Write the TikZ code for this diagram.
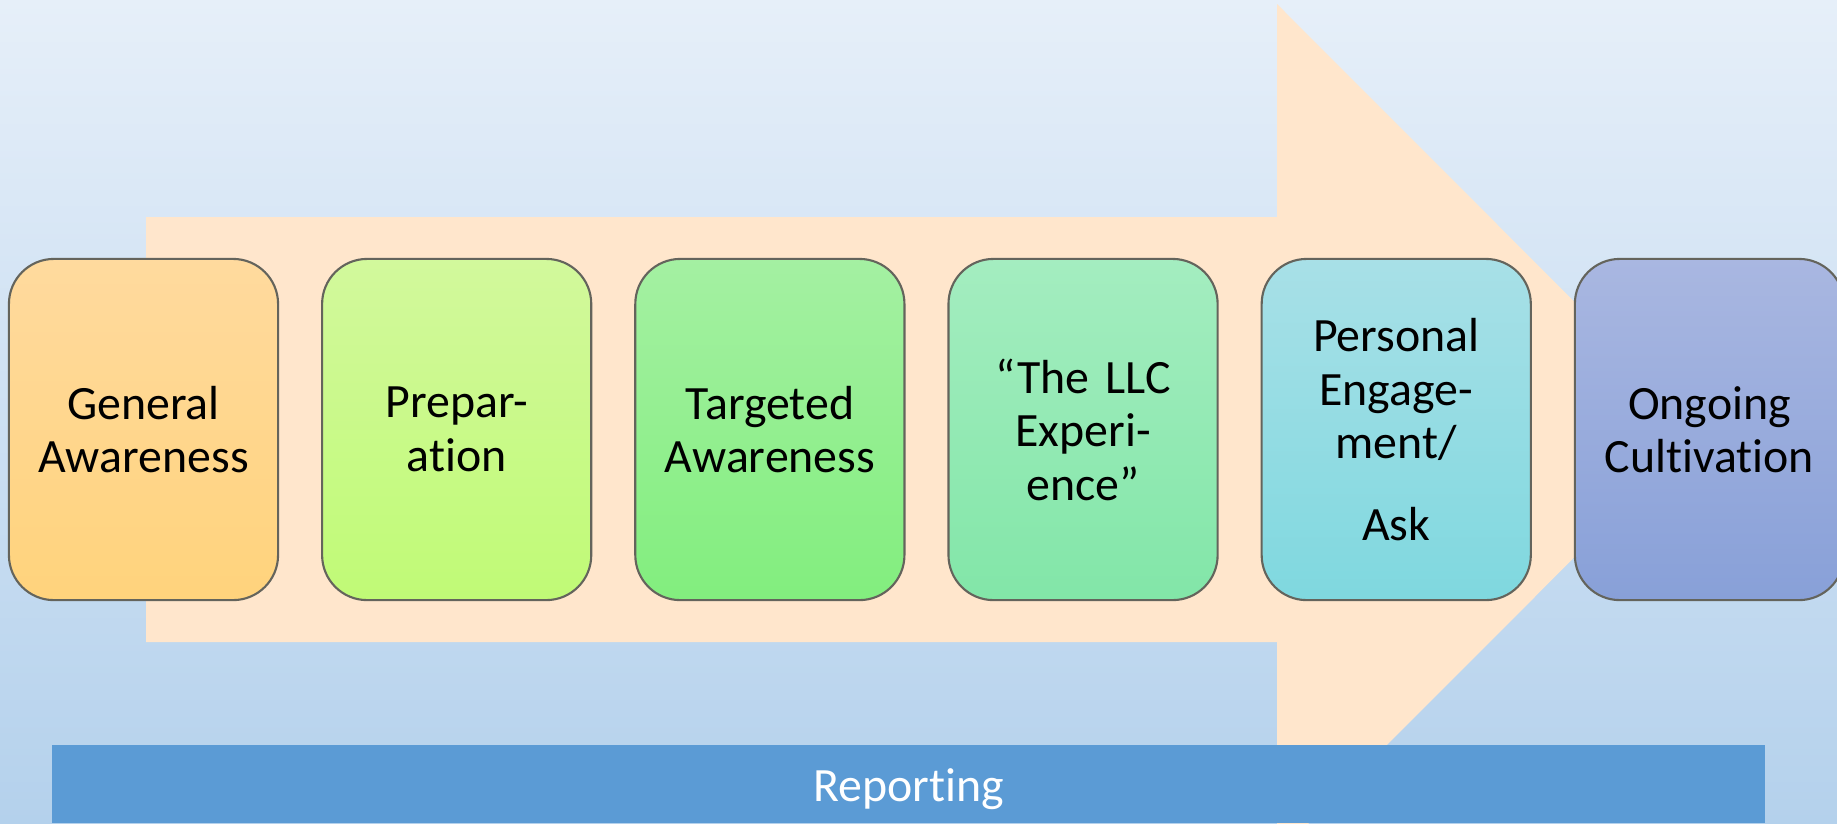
\documentclass[tikz,border=0pt]{standalone}
\usepackage{fontspec}
\setmainfont[Ligatures={NoCommon,NoContextual}]{Carlito}
\usetikzlibrary{positioning}
\definecolor{skyTop}{RGB}{230,239,249}
\definecolor{skyBottom}{RGB}{180,209,236}
\definecolor{arrowPeach}{RGB}{255,230,204}
\definecolor{reportBlue}{RGB}{91,155,213}
\definecolor{edgeGray}{RGB}{100,100,92}
\definecolor{orangeTop}{RGB}{255,218,158}
\definecolor{orangeBot}{RGB}{255,211,124}
\definecolor{limeTop}{RGB}{210,249,156}
\definecolor{limeBot}{RGB}{192,250,118}
\definecolor{greenTop}{RGB}{164,240,162}
\definecolor{greenBot}{RGB}{130,238,126}
\definecolor{mintTop}{RGB}{164,237,192}
\definecolor{mintBot}{RGB}{130,230,168}
\definecolor{aquaTop}{RGB}{168,224,231}
\definecolor{aquaBot}{RGB}{127,216,223}
\definecolor{slateTop}{RGB}{169,183,225}
\definecolor{slateBot}{RGB}{136,160,216}

\begin{document}
\begin{tikzpicture}[x=0.01cm, y=-0.01cm,
  stage/.style={rectangle, rounded corners=0.45cm, draw=edgeGray, line width=0.6pt,
    minimum width=2.69cm, minimum height=3.41cm, text width=2.6cm, align=center,
    font=\fontsize{13.6}{15.2}\selectfont, inner sep=0pt, outer sep=0pt},
  node distance=0.44cm]

% Background (soft blue gradient)
\useasboundingbox (0,0) rectangle (1837,823);
\clip (0,0) rectangle (1837,823);
\shade[top color=skyTop, bottom color=skyBottom] (0,0) rectangle (1837,823);

% Big block arrow behind the stages
\fill[arrowPeach] (146,217) -- (1277,217) -- (1277,4) -- (1702,429.5)
  -- (1277,855) -- (1277,642) -- (146,642) -- cycle;

% Stages
\node[stage, top color=orangeTop, bottom color=orangeBot] (genaware) at (143.5,429.5) {General\\Awareness};
\node[stage, top color=limeTop, bottom color=limeBot, right=of genaware] (prep) {Prepar-\\ation};
\node[stage, top color=greenTop, bottom color=greenBot, right=of prep] (targaware) {Targeted\\Awareness};
\node[stage, top color=mintTop, bottom color=mintBot, right=of targaware] (llcexp) {``The LLC\\Experi-\\ence''};
\node[stage, top color=aquaTop, bottom color=aquaBot, right=of llcexp] (engage) {Personal\\Engage-\\ment/\\[8pt]Ask};
\node[stage, top color=slateTop, bottom color=slateBot, right=of engage] (cultivate) {Ongoing\\Cultivation};

% Reporting bar along the bottom
\fill[reportBlue] (52,745) rectangle (1765,823);
\node[white, font=\fontsize{13.6}{15.2}\selectfont] (report) at (908.5,789) {Reporting};

\end{tikzpicture}
\end{document}
